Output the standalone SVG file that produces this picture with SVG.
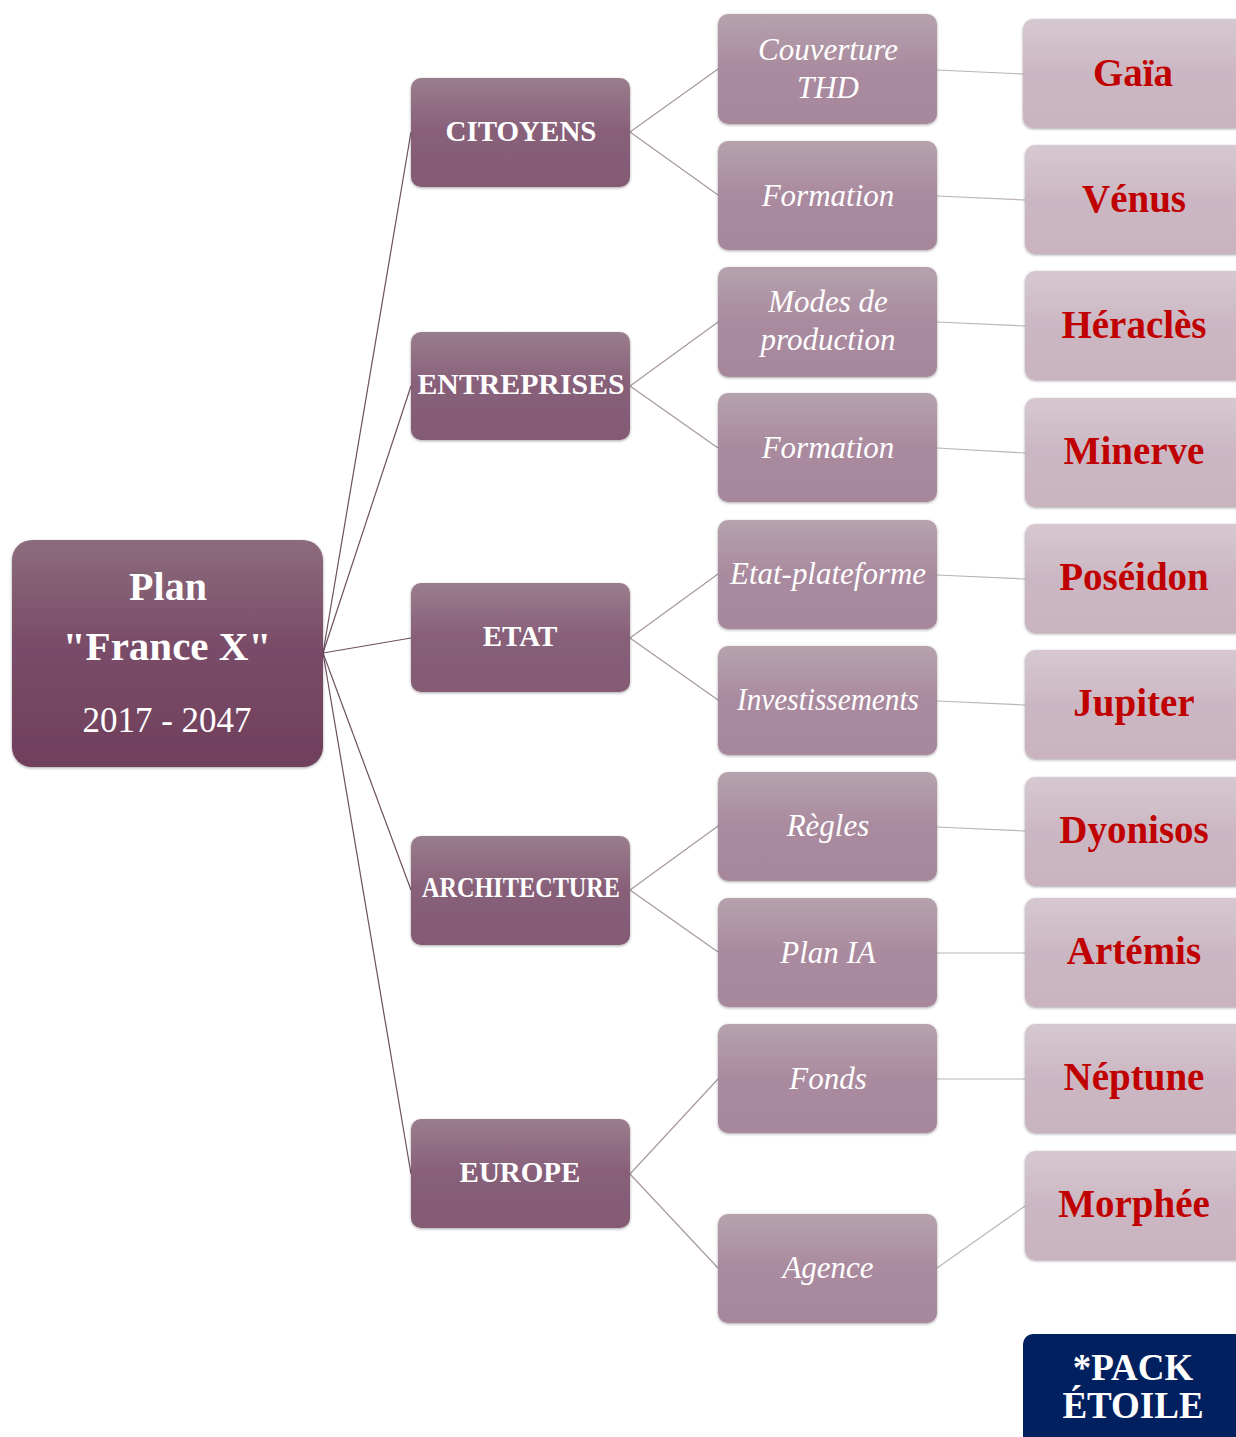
<svg xmlns="http://www.w3.org/2000/svg" width="1236" height="1437" viewBox="0 0 1236 1437">
<defs>
<linearGradient id="gRoot" x1="0" y1="0" x2="0" y2="1">
<stop offset="0" stop-color="#8c6c7c"/><stop offset="0.45" stop-color="#7a4d68"/><stop offset="1" stop-color="#6f3f5c"/>
</linearGradient>
<linearGradient id="g1" x1="0" y1="0" x2="0" y2="1">
<stop offset="0" stop-color="#9a7d8c"/><stop offset="0.5" stop-color="#875f79"/><stop offset="1" stop-color="#845a75"/>
</linearGradient>
<linearGradient id="g2" x1="0" y1="0" x2="0" y2="1">
<stop offset="0" stop-color="#b5a2ad"/><stop offset="0.5" stop-color="#aa8a9e"/><stop offset="1" stop-color="#a7879b"/>
</linearGradient>
<linearGradient id="g3" x1="0" y1="0" x2="0" y2="1">
<stop offset="0" stop-color="#d6c8d0"/><stop offset="0.5" stop-color="#cbb7c3"/><stop offset="1" stop-color="#c9b3bf"/>
</linearGradient>
<filter id="soft" x="-5%" y="-5%" width="110%" height="110%">
<feGaussianBlur in="SourceAlpha" stdDeviation="1.5"/>
<feOffset dx="0" dy="1"/>
<feComponentTransfer><feFuncA type="linear" slope="0.35"/></feComponentTransfer>
<feMerge><feMergeNode/><feMergeNode in="SourceGraphic"/></feMerge>
</filter>
</defs>
<style>
.root{fill:url(#gRoot);filter:url(#soft)}
.n1{fill:url(#g1);filter:url(#soft)}
.n2{fill:url(#g2);filter:url(#soft)}
.n3{fill:url(#g3);filter:url(#soft)}
.pack{fill:#002060}
.t0{font-family:"Liberation Serif","DejaVu Serif",serif;font-weight:bold;fill:#fff;text-anchor:middle}
.t0r{font-family:"Liberation Serif","DejaVu Serif",serif;fill:#fff;text-anchor:middle;font-size:35px}
.t1{font-family:"Liberation Serif","DejaVu Serif",serif;font-weight:bold;fill:#fff;text-anchor:middle;font-size:29px}
.t2{font-family:"Liberation Serif","DejaVu Serif",serif;font-style:italic;fill:#fff;text-anchor:middle;font-size:31px}
.t3{font-family:"Liberation Serif","DejaVu Serif",serif;font-weight:bold;fill:#c00000;text-anchor:middle;font-size:39px}
.tp{font-family:"Liberation Serif","DejaVu Serif",serif;font-weight:bold;fill:#fff;text-anchor:middle;font-size:37px}
.c0{stroke:#6e5060;stroke-width:1.2;fill:none}
.c1{stroke:#a8989f;stroke-width:1.2;fill:none}
.c2{stroke:#bdb3b8;stroke-width:1.2;fill:none}
</style>
<g id="connectors">
<line class="c0" x1="323" y1="653" x2="411" y2="132"/>
<line class="c0" x1="323" y1="653" x2="411" y2="386"/>
<line class="c0" x1="323" y1="653" x2="411" y2="638"/>
<line class="c0" x1="323" y1="653" x2="411" y2="890"/>
<line class="c0" x1="323" y1="653" x2="411" y2="1174"/>
<line class="c1" x1="630" y1="132" x2="718" y2="69"/>
<line class="c1" x1="630" y1="132" x2="718" y2="195"/>
<line class="c1" x1="630" y1="386" x2="718" y2="322"/>
<line class="c1" x1="630" y1="386" x2="718" y2="448"/>
<line class="c1" x1="630" y1="638" x2="718" y2="574"/>
<line class="c1" x1="630" y1="638" x2="718" y2="700"/>
<line class="c1" x1="630" y1="890" x2="718" y2="826"/>
<line class="c1" x1="630" y1="890" x2="718" y2="952"/>
<line class="c1" x1="630" y1="1174" x2="718" y2="1079"/>
<line class="c1" x1="630" y1="1174" x2="718" y2="1268"/>
<line class="c2" x1="937" y1="70" x2="1023" y2="74"/>
<line class="c2" x1="937" y1="196" x2="1025" y2="200"/>
<line class="c2" x1="937" y1="322" x2="1025" y2="326"/>
<line class="c2" x1="937" y1="448" x2="1025" y2="453"/>
<line class="c2" x1="937" y1="575" x2="1025" y2="579"/>
<line class="c2" x1="937" y1="701" x2="1025" y2="705"/>
<line class="c2" x1="937" y1="827" x2="1025" y2="831"/>
<line class="c2" x1="937" y1="953" x2="1025" y2="953"/>
<line class="c2" x1="937" y1="1079" x2="1025" y2="1079"/>
<line class="c2" x1="937" y1="1268" x2="1025" y2="1206"/>
</g>
<g id="root">
<rect class="root" x="12" y="540" width="311" height="227" rx="20"/>
<text class="t0" x="168" y="600" font-size="40">Plan</text>
<text class="t0" x="167" y="660" font-size="41">"France X"</text>
<text class="t0r" x="167" y="732">2017 - 2047</text>
</g>
<g id="citoyens"><rect class="n1" x="411" y="78" width="219" height="109" rx="10"/><text class="t1" x="521" y="141">CITOYENS</text></g>
<g id="entreprises"><rect class="n1" x="411" y="332" width="219" height="108" rx="10"/><text class="t1" x="521" y="394" font-size="26" textLength="207" lengthAdjust="spacingAndGlyphs">ENTREPRISES</text></g>
<g id="etat"><rect class="n1" x="411" y="583" width="219" height="109" rx="10"/><text class="t1" x="520" y="646">ETAT</text></g>
<g id="architecture"><rect class="n1" x="411" y="836" width="219" height="109" rx="10"/><text class="t1" x="521" y="897" font-size="23" textLength="198" lengthAdjust="spacingAndGlyphs">ARCHITECTURE</text></g>
<g id="europe"><rect class="n1" x="411" y="1119" width="219" height="109" rx="10"/><text class="t1" x="520" y="1182">EUROPE</text></g>

<g id="couverture"><rect class="n2" x="718" y="14" width="219" height="110" rx="10"/><text class="t2" x="828" y="60">Couverture</text><text class="t2" x="828" y="98">THD</text></g>
<g id="formation1"><rect class="n2" x="718" y="141" width="219" height="109" rx="10"/><text class="t2" x="828" y="206">Formation</text></g>
<g id="modes"><rect class="n2" x="718" y="267" width="219" height="110" rx="10"/><text class="t2" x="828" y="312">Modes de</text><text class="t2" x="828" y="350">production</text></g>
<g id="formation2"><rect class="n2" x="718" y="393" width="219" height="109" rx="10"/><text class="t2" x="828" y="458">Formation</text></g>
<g id="etatplateforme"><rect class="n2" x="718" y="520" width="219" height="109" rx="10"/><text class="t2" x="828" y="584" textLength="196" lengthAdjust="spacingAndGlyphs">Etat-plateforme</text></g>
<g id="investissements"><rect class="n2" x="718" y="646" width="219" height="109" rx="10"/><text class="t2" x="828" y="710" textLength="182" lengthAdjust="spacingAndGlyphs">Investissements</text></g>
<g id="regles"><rect class="n2" x="718" y="772" width="219" height="109" rx="10"/><text class="t2" x="828" y="836">Règles</text></g>
<g id="planIA"><rect class="n2" x="718" y="898" width="219" height="109" rx="10"/><text class="t2" x="828" y="963">Plan IA</text></g>
<g id="fonds"><rect class="n2" x="718" y="1024" width="219" height="109" rx="10"/><text class="t2" x="828" y="1089">Fonds</text></g>
<g id="agence"><rect class="n2" x="718" y="1214" width="219" height="109" rx="10"/><text class="t2" x="828" y="1278">Agence</text></g>

<g id="gaia"><rect class="n3" x="1023" y="19" width="224" height="109" rx="10"/><text class="t3" x="1133" y="86">Gaïa</text></g>
<g id="venus"><rect class="n3" x="1025" y="145" width="222" height="109" rx="10"/><text class="t3" x="1134" y="212">Vénus</text></g>
<g id="heracles"><rect class="n3" x="1025" y="271" width="222" height="109" rx="10"/><text class="t3" x="1134" y="338">Héraclès</text></g>
<g id="minerve"><rect class="n3" x="1025" y="398" width="222" height="109" rx="10"/><text class="t3" x="1134" y="464">Minerve</text></g>
<g id="poseidon"><rect class="n3" x="1025" y="524" width="222" height="109" rx="10"/><text class="t3" x="1134" y="590">Poséidon</text></g>
<g id="jupiter"><rect class="n3" x="1025" y="650" width="222" height="109" rx="10"/><text class="t3" x="1134" y="716">Jupiter</text></g>
<g id="dyonisos"><rect class="n3" x="1025" y="777" width="222" height="109" rx="10"/><text class="t3" x="1134" y="843">Dyonisos</text></g>
<g id="artemis"><rect class="n3" x="1025" y="898" width="222" height="109" rx="10"/><text class="t3" x="1134" y="964">Artémis</text></g>
<g id="neptune"><rect class="n3" x="1025" y="1024" width="222" height="109" rx="10"/><text class="t3" x="1134" y="1090">Néptune</text></g>
<g id="morphee"><rect class="n3" x="1025" y="1151" width="222" height="109" rx="10"/><text class="t3" x="1134" y="1217">Morphée</text></g>

<g id="pack"><rect class="pack" x="1023" y="1334" width="224" height="115" rx="10"/><text class="tp" x="1133" y="1380">*PACK</text><text class="tp" x="1133" y="1418">ÉTOILE</text></g>
</svg>
